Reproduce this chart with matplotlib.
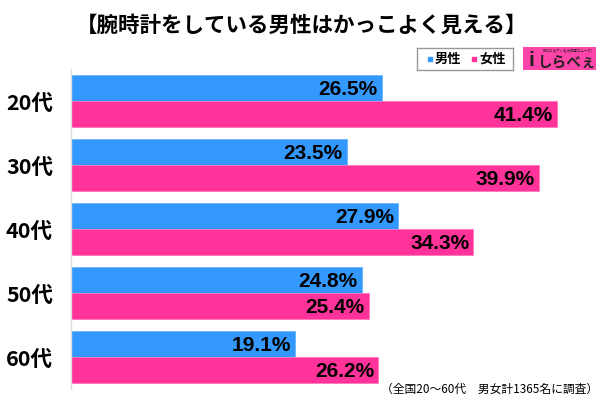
import matplotlib.pyplot as plt
from matplotlib.patches import Rectangle
import numpy as np

# データ
categories = ["20代", "30代", "40代", "50代", "60代"]
male = [26.5, 23.5, 27.9, 24.8, 19.1]
female = [41.4, 39.9, 34.3, 25.4, 26.2]
title = "【腕時計をしている男性はかっこよく見える】"
note = "（全国20～60代　男女計1365名に調査）"

blue = "#3399ff"
pink = "#ff3399"
jp_font = ["Noto Sans CJK JP", "DejaVu Sans"]
num_font = ["Liberation Sans Narrow", "Liberation Sans", "DejaVu Sans"]

fig = plt.figure(figsize=(6, 4), dpi=100)
ax = fig.add_axes([71 / 600, 11 / 400, 529 / 600, 320 / 400])

y = np.arange(len(categories))
h = 0.4
ax.barh(y - h / 2, male, height=h, color=blue, edgecolor="#66b3ff", linewidth=0.6)
ax.barh(y + h / 2, female, height=h, color=pink, edgecolor="#ff77bb", linewidth=0.6)

for i in range(len(categories)):
    ax.annotate(f"{male[i]}%", (male[i], y[i] - h / 2), xytext=(-3, -1),
                textcoords="offset points", ha="right", va="center",
                fontsize=15, fontweight="bold", family=num_font)
    ax.annotate(f"{female[i]}%", (female[i], y[i] + h / 2), xytext=(-3, -1),
                textcoords="offset points", ha="right", va="center",
                fontsize=15, fontweight="bold", family=num_font)

ax.set_xlim(0, 529 / 11.73)
ax.set_ylim(len(categories) - 0.5, -0.5)
ax.set_yticks(y)
ax.set_yticklabels(categories, fontsize=15.5, fontweight="bold", family=jp_font)
ax.tick_params(axis="y", length=0, pad=13)
ax.set_xticks([])
for s in ["top", "right", "bottom"]:
    ax.spines[s].set_visible(False)
ax.spines["left"].set_color("#dddddd")
ax.spines["left"].set_linewidth(1)

fig.text(0.502, 1 - 25 / 400, title, ha="center", va="center",
         fontsize=15.5, fontweight="bold", family=jp_font)

# 凡例
leg_ax = fig.add_axes([417 / 600, 1 - 70 / 400, 96 / 600, 22 / 400])
leg_ax.set_xlim(0, 96)
leg_ax.set_ylim(0, 22)
leg_ax.set_xticks([])
leg_ax.set_yticks([])
for s in leg_ax.spines.values():
    s.set_color("#999999")
    s.set_linewidth(1)
leg_ax.add_patch(Rectangle((11, 9), 4.5, 4.5, color=blue))
leg_ax.text(18, 11, "男性", va="center", fontsize=9.5, fontweight="bold", family=jp_font)
leg_ax.add_patch(Rectangle((55, 9), 4.5, 4.5, color=pink))
leg_ax.text(62, 11, "女性", va="center", fontsize=9.5, fontweight="bold", family=jp_font)

# ロゴ
logo = fig.add_axes([523 / 600, 1 - 70 / 400, 73 / 600, 23 / 400])
logo.set_facecolor("#ff44aa")
logo.set_xticks([])
logo.set_yticks([])
for s in logo.spines.values():
    s.set_visible(False)
logo.text(0.6, 0.38, "しらべぇ", ha="center", va="center", fontsize=10.5,
          fontweight="bold", color="#222222", family=jp_font, transform=logo.transAxes)
logo.text(0.12, 0.42, "i", ha="center", va="center", fontsize=15,
          fontweight="bold", color="#222222", family=num_font, transform=logo.transAxes)
logo.text(0.62, 0.82, "気になるアレを大調査ニュース!", ha="center", va="center", fontsize=2.5,
          color="#222222", family=jp_font, transform=logo.transAxes)

fig.text(598 / 600, 1 - 389 / 400, note, ha="right", va="center",
         fontsize=8.5, family=jp_font)

fig.savefig("out.png", dpi=100)
